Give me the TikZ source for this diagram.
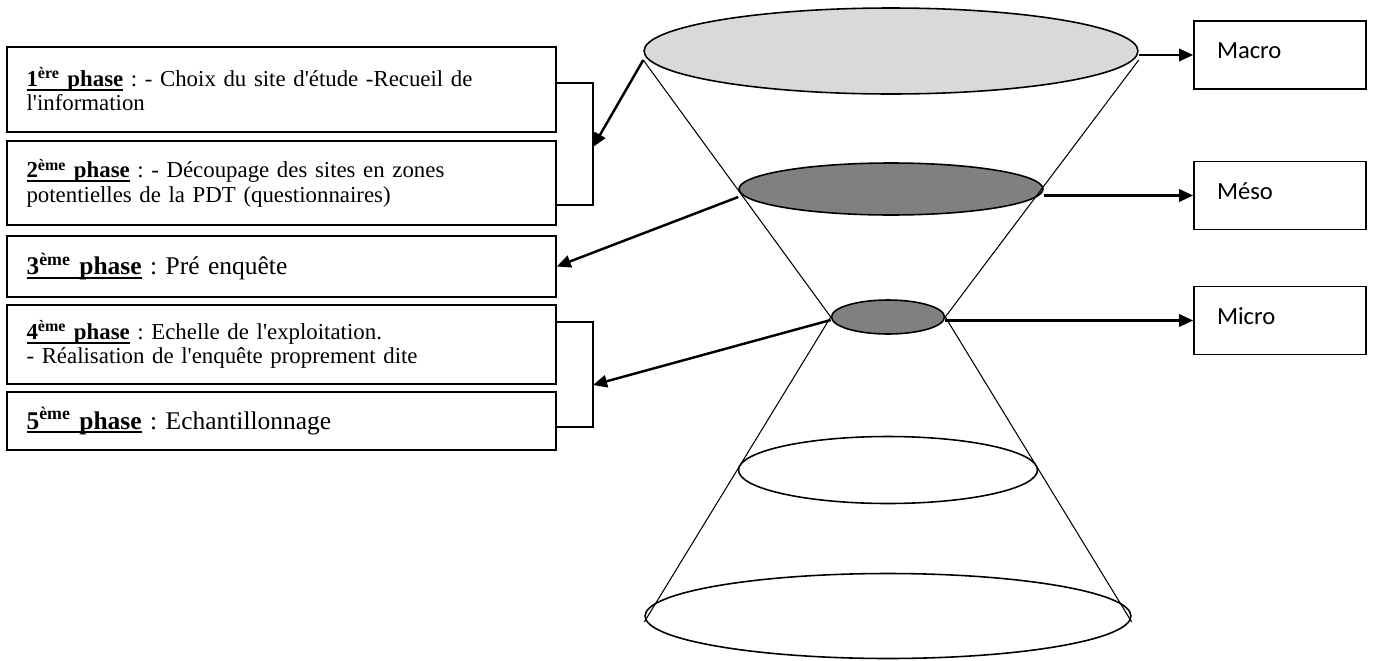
\documentclass[tikz,border=0pt]{standalone}
\usepackage{fontspec}
\setmainfont{Liberation Serif}[Ligatures = TeXOff]
\newfontfamily\calibri{Carlito}
\usetikzlibrary{shapes.geometric,arrows.meta}
\frenchspacing
\newsavebox{\phbox}
\newcommand{\ph}[2]{\sbox{\phbox}{\textbf{#1\textsuperscript{#2} phase}}%
    \rlap{\rule[-2.4pt]{\wd\phbox}{1.1pt}}\usebox{\phbox}}

\begin{document}
\begin{tikzpicture}[x = 0.02cm, y = -0.02cm,
            phasebox/.style = {draw, line width = 0.9pt, minimum width = 10.98cm,
                text width = 10.2cm, inner xsep = 0.39cm, align = left,
                font = \fontsize{13}{13.8}\selectfont},
            bigphase/.style = {phasebox, font = \fontsize{14.5}{16}\selectfont},
            scalebox/.style = {draw, line width = 0.9pt, minimum width = 3.44cm,
                minimum height = 1.36cm, text width = 2.52cm, inner xsep = 0.46cm,
                align = left, text depth = 5pt, font = \calibri\fontsize{14}{16}\selectfont},
            disc/.style = {ellipse, draw, line width = 0.9pt, inner sep = 0pt},
            side/.style = {line width = 0.6pt},
            link/.style = {line width = 1.4pt, -{Triangle[length = 8pt, width = 7pt]}},
            bracket/.style = {line width = 0.9pt}]
            \useasboundingbox (0,0) rectangle (1374,660);
            % the five discs of the cone
            \node[disc, fill = black!15, minimum width = 9.88cm, minimum height = 1.72cm] (macroE) at (891,51) {};
            \node[disc, fill = black!50, minimum width = 6.08cm, minimum height = 1.04cm] (mesoE) at (891,189) {};
            \node[disc, fill = black!50, minimum width = 2.26cm, minimum height = 0.68cm] (microE) at (888,317) {};
            \node[disc, minimum width = 5.98cm, minimum height = 1.34cm] (lowE) at (888,470) {};
            \node[disc, minimum width = 9.72cm, minimum height = 1.7cm] (baseE) at (888,616) {};
            \coordinate (tl) at ([yshift = -0.18cm]macroE.west);
            \coordinate (tr) at ([yshift = -0.18cm]macroE.east);
            \coordinate (bl) at ([yshift = -0.12cm]baseE.west);
            \coordinate (br) at ([yshift = -0.12cm]baseE.east);
            \draw[side] (tl) -- (microE.west) -- (bl);
            \draw[side] (tr) -- (microE.east) -- (br);
            % scales
            \node[scalebox] (macro) at (1280,55) {Macro};
            \node[scalebox] (meso) at (1280,195.5) {Méso};
            \node[scalebox] (micro) at (1280,320.5) {Micro};
            \draw[link] (macroE.east |- macro.west) -- (macro.west);
            \draw[link] (mesoE.east |- meso.west) -- (meso.west);
            \draw[link] (microE.east |- micro.west) -- (micro.west);
            % phases
            \node[phasebox, minimum height = 1.7cm] (p1) at (281.5,89.5)
                {\ph{1}{ère} : - Choix du site d'étude -Recueil de\\l'information};
            \node[phasebox, minimum height = 1.68cm] (p2) at (281.5,183)
                {\ph{2}{ème} : - Découpage des sites en zones\\potentielles de la PDT (questionnaires)};
            \node[bigphase, minimum height = 1.22cm] (p3) at (281.5,266.5)
                {\ph{3}{ème} : Pré enquête};
            \node[phasebox, minimum height = 1.58cm] (p4) at (281.5,344.5)
                {\ph{4}{ème} : Echelle de l'exploitation.\\- Réalisation de l'enquête proprement dite};
            \node[bigphase, minimum height = 1.16cm] (p5) at (281.5,421)
                {\ph{5}{ème} : Echantillonnage};
            \draw[bracket] (p1.east |- 0,83) -- (593,83) -- (593,205) -- (p2.east |- 0,205);
            \draw[bracket] (p4.east |- 0,322) -- (593,322) -- (593,427) -- (p5.east |- 0,427);
            \coordinate (b1) at (593,147);
            \coordinate (b2) at (593,385);
            \draw[link] (tl) -- (b1);
            \draw[link] ([yshift = -0.16cm]mesoE.west) -- (p3.east);
            \draw[link] ([yshift = -0.06cm]microE.west) -- (b2);
        \end{tikzpicture}
\end{document}
